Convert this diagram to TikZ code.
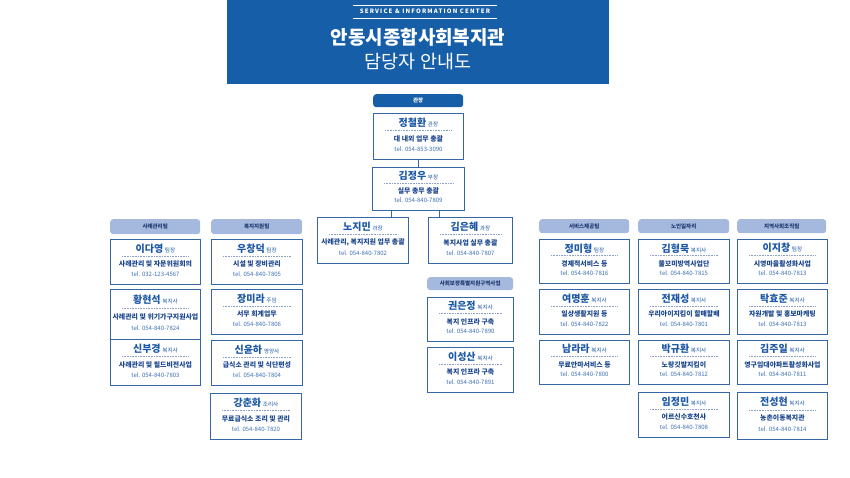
\documentclass[tikz,border=0pt]{standalone}
\usepackage{fontspec}
\setmainfont{Noto Sans CJK KR}
\usetikzlibrary{calc}
\definecolor{hdrblue}{RGB}{22,94,168}
\definecolor{boxblue}{RGB}{52,102,168}
\definecolor{namecol}{RGB}{28,88,165}
\definecolor{dutycol}{RGB}{25,68,140}
\definecolor{telcol}{RGB}{60,112,180}
\definecolor{lblfill}{RGB}{165,185,222}
\definecolor{lbltext}{RGB}{30,55,110}
\definecolor{dotcol}{RGB}{140,160,195}
\tikzset{
  pbox/.style={draw=boxblue, line width=0.9pt, fill=white, anchor=north west, inner sep=0pt},
  namet/.style={font=\bfseries\fontsize{10}{10}\selectfont, text=namecol, inner sep=0pt},
  dutyt/.style={font=\bfseries\fontsize{6.9}{6.9}\selectfont, text=dutycol, inner sep=0pt},
  telt/.style={font=\fontsize{6}{6}\selectfont, text=telcol, inner sep=0pt},
  dotline/.style={draw=dotcol, line width=0.6pt, dash pattern=on 0.6pt off 1pt},
  teamlbl/.style={fill=lblfill, rounded corners=3pt, anchor=north west, inner sep=0pt,
    font=\bfseries\fontsize{5.5}{5.5}\selectfont, text=lbltext},
  toplbl/.style={fill=hdrblue, rounded corners=3pt, anchor=north west, inner sep=0pt,
    font=\bfseries\fontsize{5.5}{5.5}\selectfont, text=white},
  conn/.style={draw=boxblue, line width=0.9pt},
}
\newcommand\rolef{\mdseries\fontsize{5.6}{5.6}\selectfont}
\newcommand\pbx[9]{%
  \node[pbox, minimum width=#4pt, minimum height=#5pt] (#1) at (#2,#3) {};
  \node[namet] (#1n) at ($(#1.north)+(0,{0.21*#5})$) {#6\,{\rolef #7}};
  \draw[dotline] ($(#1.north west)+(12,{0.38*#5})$) -- ($(#1.north east)+(-12,{0.38*#5})$);
  \node[dutyt] (#1d) at ($(#1.north)+(0,{0.56*#5})$) {#8};
  \node[telt] (#1t) at ($(#1.north)+(0,{0.78*#5})$) {tel. #9};
}
\newcommand\tlbl[6]{%
  \node[teamlbl, minimum width=#4pt, minimum height=#5pt] (#1) at (#2,#3) {#6};
}
\begin{document}
\begin{tikzpicture}[x=1pt,y=-1pt]
\useasboundingbox (0,0) rectangle (850,478);
% header
\fill[hdrblue] (227,0) rectangle (609,84);
\draw[white, line width=0.8pt] (353,5) -- (497,5);
\draw[white, line width=0.8pt] (353,18) -- (497,18);
\node[text=white, inner sep=0pt, font=\bfseries\fontsize{6}{6}\selectfont\addfontfeature{LetterSpace=20}] (hsub) at (425,11.5) {SERVICE \& INFORMATION CENTER};
\node[text=white, inner sep=0pt, font=\bfseries\fontsize{19}{19}\selectfont] (htitle) at (418,37) {안동시종합사회복지관};
\node[text=white, inner sep=0pt, font=\fontsize{18.5}{18.5}\selectfont] (htitle2) at (418,62) {담당자 안내도};
% director
\node[toplbl, minimum width=90pt, minimum height=13pt] (lboss) at (373,94) {관장};
\pbx{c1}{373}{113}{90}{46}{정철환}{관장}{대 내외 업무 총괄}{054-853-3090}
\pbx{c2}{372}{167}{92}{43}{김정우}{부장}{실무 총무 총괄}{054-840-7809}
\draw[conn] (c1.south) -- (c2.north);
\pbx{nj}{317}{217}{91}{46}{노지민}{과장}{사례관리, 복지지원 업무 총괄}{054-840-7802}
\pbx{ke}{428}{217}{84}{46}{김은혜}{과장}{복지사업 실무 총괄}{054-840-7807}
\coordinate (k1) at ($(c2.south west)+(19,0)$);
\coordinate (k2) at ($(c2.south west)+(67,0)$);
\draw[conn] (k1) -- (k1 |- nj.north);
\draw[conn] (k2) -- (k2 |- ke.north);
% special project
\tlbl{lsp}{427}{277}{86}{13}{사회보장특별지원구역사업}
\pbx{sp1}{427}{297}{86}{44}{권은정}{복지사}{복지 인프라 구축}{054-840-7890}
\pbx{sp2}{427}{347}{86}{45}{이성산}{복지사}{복지 인프라 구축}{054-840-7891}
% column 1
\tlbl{l1}{110}{219}{90}{15}{사례관리팀}
\pbx{a1}{110}{239}{90}{45}{이다영}{팀장}{사례관리 및 자문위원회의}{032-123-4567}
\pbx{a2}{110}{289}{90}{50}{황현석}{복지사}{사례관리 및 위기가구지원사업}{054-840-7824}
\pbx{a3}{110}{339}{90}{46}{신부경}{복지사}{사례관리 및 필드비전사업}{054-840-7803}
% column 2
\tlbl{l2}{211}{219}{91}{15}{복지지원팀}
\pbx{b1}{211}{239}{91}{45}{우창덕}{팀장}{시설 및 장비관리}{054-840-7805}
\pbx{b2}{211}{289}{91}{45}{장미라}{주임}{서무 회계업무}{054-840-7806}
\pbx{b3}{211}{340}{91}{45}{신윤하}{영양사}{급식소 관리 및 식단편성}{054-840-7804}
\pbx{b4}{210}{393}{91}{46}{강춘화}{조리사}{무료급식소 조리 및 관리}{054-840-7820}
% column 3
\tlbl{l3}{539}{219}{90}{14}{서비스제공팀}
\pbx{d1}{539}{239}{90}{44}{정미형}{팀장}{경제적서비스 등}{054-840-7816}
\pbx{d2}{539}{289}{90}{45}{여명훈}{복지사}{일상생활지원 등}{054-840-7822}
\pbx{d3}{539}{340}{90}{44}{남라라}{복지사}{무료안마서비스 등}{054-840-7800}
% column 4
\tlbl{l4}{638}{219}{91}{14}{노인일자리}
\pbx{e1}{638}{239}{91}{44}{김형묵}{복지사}{뚤꼬미방역사업단}{054-840-7815}
\pbx{e2}{638}{289}{91}{45}{전재성}{복지사}{우리아이지킴이 할매할배}{054-840-7801}
\pbx{e3}{638}{340}{91}{44}{박규환}{복지사}{노랑깃발지킴이}{054-840-7812}
\pbx{e4}{638}{392}{91}{45}{임정민}{복지사}{어르신수호천사}{054-840-7808}
% column 5
\tlbl{l5}{737}{219}{89}{14}{지역사회조직팀}
\pbx{f1}{737}{239}{90}{44}{이지창}{팀장}{시영마을활성화사업}{054-840-7813}
\pbx{f2}{737}{289}{90}{45}{탁효준}{복지사}{자원개발 및 홍보마케팅}{054-840-7813}
\pbx{f3}{737}{340}{90}{44}{김주일}{복지사}{영구임대아파트활성화사업}{054-840-7811}
\pbx{f4}{737}{392}{90}{47}{전성현}{복지사}{농촌이동복지관}{054-840-7814}
\end{tikzpicture}
\end{document}
